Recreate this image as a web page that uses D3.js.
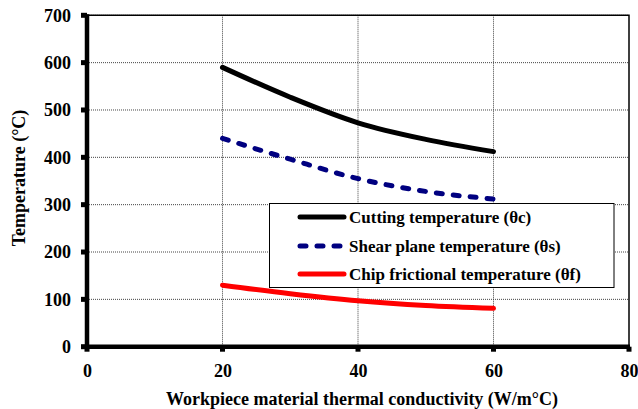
<!DOCTYPE html>
<html>
<head>
<meta charset="utf-8">
<script src="https://cdn.jsdelivr.net/npm/d3@7"></script>
<style>
  html, body { margin: 0; padding: 0; background: #fff; }
</style>
</head>
<body>
<svg id="chart" width="638" height="409"></svg>
<script>
// Thermal conductivity of the workpiece (W/m°C)
const conductivity = [20, 30, 40, 50, 60];
// Temperatures (°C)
const cuttingTemp = [590, 527, 473, 438, 412];
const shearTemp = [440, 396, 355, 328, 312];
const chipTemp = [130, 112, 97, 87, 81];

const xTicks = [0, 20, 40, 60, 80];
const yTicks = [0, 100, 200, 300, 400, 500, 600, 700];

const seriesNames = [
  "Cutting temperature (\u03b8c)",
  "Shear plane temperature (\u03b8s)",
  "Chip frictional temperature (\u03b8f)"
];
const seriesValues = [cuttingTemp, shearTemp, chipTemp];
const seriesColors = ["#000000", "#000080", "#ff0000"];
const seriesDash = [null, "6,11", null];

const FONT = "Liberation Serif";

const svg = d3.select("#chart");
const plotLeft = 87, plotRight = 629, plotTop = 15.3, plotBottom = 346.7;

const x = d3.scaleLinear().domain([0, 80]).range([plotLeft, plotRight]);
const y = d3.scaleLinear().domain([0, 700]).range([plotBottom, plotTop]);

// Dotted gridlines
const grid = svg.append("g");
grid.selectAll("line.h").data(yTicks.filter(d => d > 0)).enter().append("line")
  .attr("x1", plotLeft).attr("x2", plotRight)
  .attr("y1", d => y(d)).attr("y2", d => y(d))
  .attr("stroke", "#444").attr("stroke-width", 1).attr("stroke-dasharray", "1,1");
grid.selectAll("line.v").data(xTicks.filter(d => d > 0 && d < 80)).enter().append("line")
  .attr("y1", plotTop).attr("y2", plotBottom)
  .attr("x1", d => x(d)).attr("x2", d => x(d))
  .attr("stroke", "#444").attr("stroke-width", 1).attr("stroke-dasharray", "1,1");

// Thin frame on top and right
svg.append("path")
  .attr("d", `M${plotLeft},${plotTop}H${plotRight}V${plotBottom}`)
  .attr("fill", "none").attr("stroke", "#000").attr("stroke-width", 1.5);

// Axes
const xAxis = d3.axisBottom(x).tickValues(xTicks).tickSize(0).tickPadding(0);
const yAxis = d3.axisLeft(y).tickValues(yTicks).tickSize(0).tickPadding(0);

const gx = svg.append("g").attr("transform", `translate(0,${plotBottom})`).call(xAxis);
gx.select(".domain").remove();
gx.attr("font-family", FONT).attr("font-weight", "bold").attr("font-size", 18);
gx.selectAll("text").attr("fill", "#000").attr("y", 30).attr("dy", 0);

const gy = svg.append("g").attr("transform", `translate(${plotLeft},0)`).call(yAxis);
gy.select(".domain").remove();
gy.attr("font-family", FONT).attr("font-weight", "bold").attr("font-size", 18);
gy.selectAll("text").attr("fill", "#000").attr("x", -16).attr("dy", "0.33em");

// Tick marks as small squares
svg.selectAll("rect.xt").data(xTicks).enter().append("rect")
  .attr("x", d => x(d) - 2.5).attr("y", plotBottom).attr("width", 5).attr("height", 5).attr("fill", "#000");
svg.selectAll("rect.yt").data(yTicks).enter().append("rect")
  .attr("x", plotLeft - 6).attr("y", d => y(d) - 2.5).attr("width", 6).attr("height", 5).attr("fill", "#000");

// Heavy left and bottom axis lines
svg.append("line").attr("x1", plotLeft).attr("x2", plotLeft).attr("y1", plotTop - 1).attr("y2", plotBottom + 2)
  .attr("stroke", "#000").attr("stroke-width", 4.5);
svg.append("line").attr("x1", plotLeft - 2).attr("x2", plotRight + 1).attr("y1", plotBottom).attr("y2", plotBottom)
  .attr("stroke", "#000").attr("stroke-width", 4.5);

// Data lines
const line = d3.line()
  .x((d, i) => x(conductivity[i]))
  .y(d => y(d))
  .curve(d3.curveMonotoneX);

seriesValues.forEach((vals, i) => {
  svg.append("path")
    .datum(vals)
    .attr("d", line)
    .attr("fill", "none")
    .attr("stroke", seriesColors[i])
    .attr("stroke-width", 5)
    .attr("stroke-dasharray", seriesDash[i])
    .attr("stroke-linecap", "round");
});

// Legend
const legend = svg.append("g");
legend.append("rect")
  .attr("x", 269.5).attr("y", 203.5).attr("width", 344.5).attr("height", 84)
  .attr("fill", "#fff").attr("stroke", "#000").attr("stroke-width", 1);
const rowY = [217, 246, 274];
seriesNames.forEach((name, i) => {
  legend.append("line")
    .attr("x1", 300).attr("x2", 344).attr("y1", rowY[i]).attr("y2", rowY[i])
    .attr("stroke", seriesColors[i]).attr("stroke-width", 5)
    .attr("stroke-dasharray", seriesDash[i])
    .attr("stroke-linecap", "round");
  legend.append("text")
    .attr("x", 349).attr("y", rowY[i]).attr("dy", "0.33em")
    .attr("font-family", FONT).attr("font-weight", "bold")
    .attr("font-size", 17).attr("fill", "#000").text(name);
});

// Axis titles
svg.append("text")
  .attr("x", 362).attr("y", 405)
  .attr("text-anchor", "middle").attr("font-size", 18)
  .attr("font-family", FONT).attr("font-weight", "bold").attr("fill", "#000")
  .text("Workpiece material thermal conductivity (W/m\u00b0C)");
svg.append("text")
  .attr("transform", "translate(25,178) rotate(-90)")
  .attr("text-anchor", "middle").attr("font-size", 18)
  .attr("font-family", FONT).attr("font-weight", "bold").attr("fill", "#000")
  .text("Temperature (\u00b0C)");
</script>
</body>
</html>
